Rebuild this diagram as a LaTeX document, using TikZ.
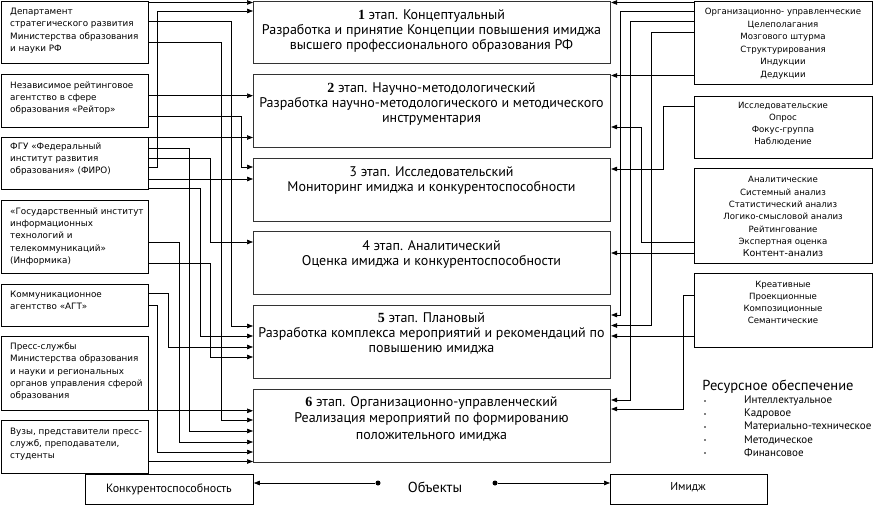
\documentclass[tikz,border=0pt]{standalone}
\usepackage{fontspec}
\setmainfont{PT Sans}
\newfontfamily\smallfont{DejaVu Sans}
\newfontfamily\numfont{Liberation Serif}
\usetikzlibrary{arrows.meta}
\begin{document}
\begin{tikzpicture}[x=1pt,y=-1pt,
  ar/.style={line width=0.7pt,-{Triangle[length=6pt,width=4.5pt]}},
  lbox/.style={draw=black,line width=0.8pt,inner sep=0,anchor=north west},
  cbox/.style={draw=black!80,line width=1.1pt,inner sep=0,anchor=north west},
  ltext/.style={anchor=north west,align=left,inner sep=0,font=\smallfont\fontsize{8.8}{12.3}\selectfont},
  rtext/.style={anchor=north,align=center,inner sep=0,font=\smallfont\fontsize{8.6}{12.3}\selectfont},
  ctext/.style={anchor=north,align=center,inner sep=0,font=\fontsize{14}{15}\selectfont},
  dot/.style={circle,fill=black,inner sep=0,minimum size=5pt},
  bul/.style={circle,fill=black,inner sep=0,minimum size=1.6pt},
  itext/.style={anchor=west,inner sep=0,font=\fontsize{11}{13}\selectfont},
]
\useasboundingbox (0,0) rectangle (873,505);
% left boxes
\node[lbox,minimum width=147,minimum height=62] (L1) at (0.5,1) {};
\node[lbox,minimum width=147,minimum height=53] (L2) at (0.5,74) {};
\node[lbox,minimum width=147,minimum height=52] (L3) at (0.5,137) {};
\node[lbox,minimum width=147,minimum height=73] (L4) at (0.5,200) {};
\node[lbox,minimum width=147,minimum height=42] (L5) at (0.5,284) {};
\node[lbox,minimum width=147,minimum height=74] (L6) at (0.5,336) {};
\node[lbox,minimum width=147,minimum height=53] (L7) at (0.5,420) {};
\node[ltext] (tL1) at (10,8) {Департамент\\стратегического развития\\Министерства образования\\и науки РФ};
\node[ltext] (tL2) at (10,81.5) {Независимое рейтинговое\\агентство в сфере\\образования «Рейтор»};
\node[ltext] (tL3) at (10,142.5) {ФГУ «Федеральный\\институт развития\\образования» (ФИРО)};
\node[ltext] (tL4) at (10,207.5) {«Государственный институт\\информационных\\технологий и\\телекоммуникаций»\\(Информика)};
\node[ltext] (tL5) at (10,290.5) {Коммуникационное\\агентство «АГТ»};
\node[ltext] (tL6) at (10,342.5) {Пресс-службы\\Министерства образования\\и науки и региональных\\органов управления сферой\\образования};
\node[ltext] (tL7) at (10,427.5) {Вузы, представители пресс-\\служб, преподаватели,\\студенты};
% centre boxes
\node[cbox,minimum width=357,minimum height=62] (B1) at (253,1) {};
\node[cbox,minimum width=357,minimum height=73] (B2) at (253,74) {};
\node[cbox,minimum width=357,minimum height=63] (B3) at (253,158) {};
\node[cbox,minimum width=357,minimum height=63] (B4) at (253,231) {};
\node[cbox,minimum width=357,minimum height=73] (B5) at (253,305) {};
\node[cbox,minimum width=357,minimum height=73] (B6) at (253,389) {};
\node[ctext] (tB1) at (431.5,9) {{\numfont\bfseries 1} этап. Концептуальный\\Разработка и принятие Концепции повышения имиджа\\высшего профессионального образования РФ};
\node[ctext] (tB2) at (431.5,82) {{\numfont\bfseries 2} этап. Научно-методологический\\Разработка научно-методологического и методического\\инструментария};
\node[ctext] (tB3) at (431.5,166) {3 этап. Исследовательский\\Мониторинг имиджа и конкурентоспособности};
\node[ctext] (tB4) at (431.5,240) {4 этап. Аналитический\\Оценка имиджа и конкурентоспособности};
\node[ctext] (tB5) at (431.5,312) {{\numfont\bfseries 5} этап. Плановый\\Разработка комплекса мероприятий и рекомендаций по\\повышению имиджа};
\node[ctext,font=\fontsize{14}{16.5}\selectfont] (tB6) at (431.5,396) {{\numfont\bfseries 6} этап. Организационно-управленческий\\Реализация мероприятий по формированию\\положительного имиджа};
% right boxes
\node[lbox,minimum width=178,minimum height=83] (R1) at (694,1) {};
\node[lbox,minimum width=178,minimum height=62] (R2) at (694,96) {};
\node[lbox,minimum width=178,minimum height=95] (R3) at (694,168) {};
\node[lbox,minimum width=178,minimum height=74] (R4) at (694,273) {};
\node[rtext,font=\smallfont\fontsize{8.6}{12.45}\selectfont] (tR1) at (783,8.2) {Организационно- управленческие\\Целеполагания\\Мозгового штурма\\Структурирования\\Индукции\\Дедукции};
\node[rtext,font=\smallfont\fontsize{8.6}{11.7}\selectfont] (tR2) at (783,102.5) {Исследовательские\\Опрос\\Фокус-группа\\Наблюдение};
\node[rtext] (tR3) at (783,176.5) {Аналитические\\Системный анализ\\Статистический анализ\\Логико-смысловой анализ\\Рейтингование\\Экспертная оценка\\{\fontsize{9.5}{12}\selectfont Контент-анализ}};
\node[rtext,font=\smallfont\fontsize{8.6}{12}\selectfont] (tR4) at (783,281.5) {Креативные\\Проекционные\\Композиционные\\Семантические};
% resources
\node[inner sep=0,font=\fontsize{14.5}{16}\selectfont] (res) at (778,387) {Ресурсное обеспечение};
\foreach \yy/\tt [count=\i] in {401/Интеллектуальное,414/Кадровое,427/Материально-техническое,440/Методическое,453/Финансовое}{
  \node[bul] (b\i) at (705,\yy) {};
  \node[itext] (it\i) at (744,\yy) {\tt};
}
% bottom row
\node[lbox,minimum width=168,minimum height=30] (K) at (85,474) {};
\node[lbox,minimum width=157,minimum height=30] (I) at (610,474) {};
\node[inner sep=0,font=\fontsize{12}{14}\selectfont] (tK) at (169,489) {Конкурентоспособность};
\node[inner sep=0,font=\fontsize{11.5}{14}\selectfont] (tI) at (688,487) {Имидж};
\node[inner sep=0,font=\fontsize{14.5}{16}\selectfont] (obj) at (435,487) {Объекты};
\node[dot] (d1) at (378,483) {};
\node[dot] (d2) at (495,483) {};
\draw[ar] (d1) -- (K.east |- d1);
\draw[ar] (d2) -- (I.west |- d2);
% left connectors
\draw[ar] (L1.east |- 0,2.5) -- (B1.west |- 0,2.5);
\draw[ar] (L3.east |- 0,167) -| (157,11) -- (B1.west |- 0,11);
\draw[ar] (L1.east |- 0,21.7) -| (231.7,326) -- (B5.west |- 0,326);
\draw[ar] (L1.east |- 0,42.7) -| (221.7,420) -- (B6.west |- 0,420);
\draw[ar] (L2.east |- 0,95.7) -- (B2.west |- 0,95.7);
\draw[ar] (L2.east |- 0,116.3) -| (241.7,167) -- (B3.west |- 0,167);
\draw[ar] (L3.east |- 0,137.5) -- (B2.west |- 0,137.5);
\draw[ar] (L3.east |- 0,148) -| (189.3,431) -- (B6.west |- 0,431);
\draw[ar] (L3.east |- 0,158) -| (210.7,242) -- (B4.west |- 0,242);
\draw[ar] (L3.east |- 0,179) -- (B3.west |- 0,179);
\draw[ar] (L3.east |- 0,188.5) -| (200,336) -- (B5.west |- 0,336);
\draw[ar] (L4.east |- 0,242) -| (179,442) -- (B6.west |- 0,442);
\draw[ar] (L4.east |- 0,263) -| (210.7,357) -- (B5.west |- 0,357);
\draw[ar] (L5.east |- 0,293) -| (168,347) -- (B5.west |- 0,347);
\draw[ar] (L5.east |- 0,305) -| (157,452) -- (B6.west |- 0,452);
\draw[ar] (L6.south east) -- (B6.west |- L6.south east);
\draw[ar] (L7.east |- 0,461.5) -- (B6.west |- 0,461.5);
% right connectors
\draw[ar] (R1.west |- 0,2.5) -- (B1.east |- 0,2.5);
\draw[ar] (R1.west |- 0,11.7) -| (620.7,315) -- (B5.east |- 0,315);
\draw[ar] (R1.west |- 0,21.7) -| (630.7,400) -- (B6.east |- 0,400);
\draw[ar] (R1.west |- 0,32.3) -| (651.7,325.5) -- (B5.east |- 0,325.5);
\draw[ar] (R1.west |- 0,75.5) -- (B2.east |- 0,75.5);
\draw[ar] (R2.west |- 0,106) -| (663.3,169) -- (B3.east |- 0,169);
\draw[ar] (R3.west |- 0,242) -| (641.7,127) -- (B2.east |- 0,127);
\draw[ar] (R3.west |- 0,253) -- (B4.east |- 0,253);
\draw[ar] (R4.west |- 0,295) -| (683.3,409) -- (B6.east |- 0,409);
\draw[ar] (R4.west |- 0,336) -- (B5.east |- 0,336);
\end{tikzpicture}
\end{document}
